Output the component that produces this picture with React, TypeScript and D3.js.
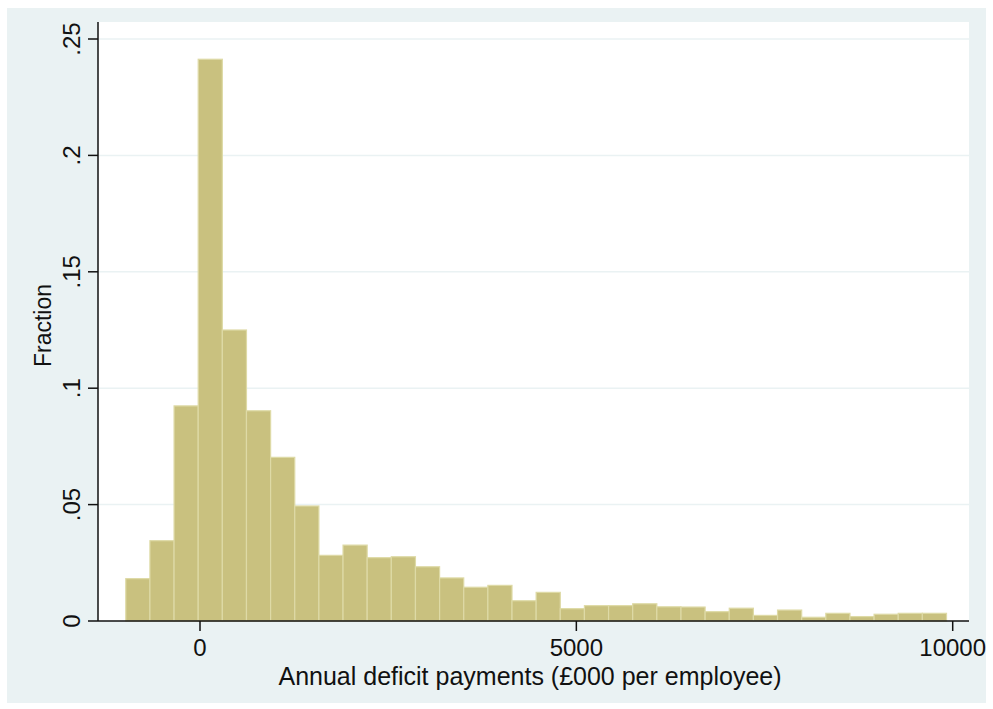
import React from 'react';
import * as d3 from 'd3';

// histogram bins: first bin start, bin width (in £000), fraction per bin
const binStart = -986;
const binWidth = 320.7;
const fractions = [
  0.0182, 0.0345, 0.0924, 0.2413, 0.125, 0.0903, 0.0703, 0.0494, 0.0282, 0.0326,
  0.0272, 0.0276, 0.0233, 0.0185, 0.0145, 0.0153, 0.0087, 0.0123, 0.0053, 0.0066,
  0.0066, 0.0074, 0.0061, 0.006, 0.004, 0.0055, 0.0024, 0.0047, 0.0016, 0.0033,
  0.0019, 0.0029, 0.0033, 0.0033,
];
const xTicks = [0, 5000, 10000];
const yTicks = [0, 0.05, 0.1, 0.15, 0.2, 0.25];
const yTickLabels = ['0', '.05', '.1', '.15', '.2', '.25'];

const W = 993;
const H = 709;
const plot = { left: 98, right: 969, top: 22, bottom: 621 };
const font = '"Liberation Sans", Arial, sans-serif';

export default function App() {
  const x = d3.scaleLinear().domain([0, 10000]).range([200, 952.7]);
  const y = d3.scaleLinear().domain([0, 0.25]).range([plot.bottom, 39]);

  const bins = fractions.map((f, i) => ({
    x0: binStart + i * binWidth,
    x1: binStart + (i + 1) * binWidth,
    f,
  }));

  return (
    <svg width={W} height={H} style={{ position: 'absolute', left: 0, top: 0 }} fontFamily={font}>
      <rect x={0} y={0} width={W} height={H} fill="#ffffff" />
      <rect x={7} y={8} width={979} height={695} fill="#eaf2f3" />
      <rect x={plot.left} y={plot.top} width={plot.right - plot.left} height={plot.bottom - plot.top} fill="#ffffff" />

      {/* gridlines */}
      {yTicks.slice(1).map(t => (
        <line key={t} x1={plot.left} x2={plot.right} y1={y(t)} y2={y(t)} stroke="#eaf2f3" strokeWidth={1.5} />
      ))}

      {/* bars */}
      {bins.map((b, i) => (
        <rect
          key={i}
          x={x(b.x0)}
          y={y(b.f)}
          width={x(b.x1) - x(b.x0)}
          height={y(0) - y(b.f)}
          fill="#c9c17f"
          stroke="#dedaa6"
          strokeWidth={1.2}
        />
      ))}

      {/* y axis */}
      <line x1={plot.left} x2={plot.left} y1={plot.top} y2={plot.bottom} stroke="#111" strokeWidth={1.5} />
      {yTicks.map((t, i) => (
        <g key={t}>
          <line x1={plot.left - 10} x2={plot.left} y1={y(t)} y2={y(t)} stroke="#111" strokeWidth={1.5} />
          <text
            transform={`translate(80,${y(t)}) rotate(-90)`}
            textAnchor="middle"
            fontSize={24}
            fill="#111"
          >
            {yTickLabels[i]}
          </text>
        </g>
      ))}
      <text transform={`translate(51,${(plot.top + plot.bottom) / 2 + 4}) rotate(-90)`} textAnchor="middle" fontSize={23} fill="#111">
        Fraction
      </text>

      {/* x axis */}
      <line x1={plot.left} x2={plot.right} y1={plot.bottom} y2={plot.bottom} stroke="#111" strokeWidth={1.5} />
      {xTicks.map(t => (
        <g key={t}>
          <line x1={x(t)} x2={x(t)} y1={plot.bottom} y2={plot.bottom + 10} stroke="#111" strokeWidth={1.5} />
          <text x={x(t)} y={656} textAnchor="middle" fontSize={24} fill="#111">
            {t}
          </text>
        </g>
      ))}
      <text x={530} y={685} textAnchor="middle" fontSize={25} fill="#111">
        Annual deficit payments (£000 per employee)
      </text>
    </svg>
  );
}
